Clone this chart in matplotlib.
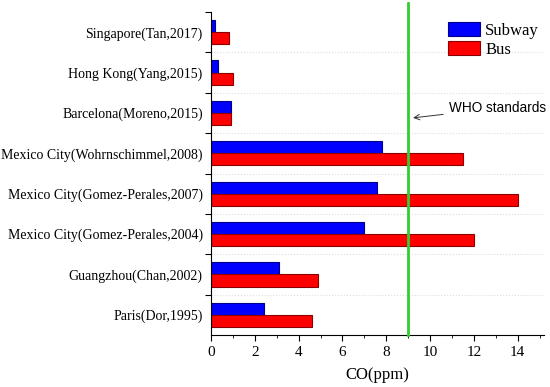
import numpy as np
import matplotlib.pyplot as plt

# categories listed bottom -> top
cities = ["Paris(Dor,1995)", "Guangzhou(Chan,2002)", "Mexico City(Gomez-Perales,2004)",
          "Mexico City(Gomez-Perales,2007)", "Mexico City(Wohrnschimmel,2008)",
          "Barcelona(Moreno,2015)", "Hong Kong(Yang,2015)", "Singapore(Tan,2017)"]
subway = [2.4, 3.1, 7.0, 7.6, 7.8, 0.9, 0.3, 0.2]
bus = [4.6, 4.9, 12.0, 14.0, 11.5, 0.9, 1.0, 0.8]
who_limit = 9

plt.rcParams['font.family'] = ['Liberation Serif', 'DejaVu Serif']

fig = plt.figure(figsize=(5.5, 3.87), dpi=100)
ax = fig.add_axes([211/550, 52/387, 333/550, 323/387])

y = np.arange(len(cities))
h = 0.3
ax.barh(y + h/2, subway, height=h, color='#0000ff', edgecolor='#00008b', lw=0.8, label='Subway', zorder=2)
ax.barh(y - h/2, bus, height=h, color='#ff0000', edgecolor='#8b0000', lw=0.8, label='Bus', zorder=2)

ax.set_ylim(-0.5, len(cities) - 0.5)
ax.set_xlim(0, 15.2)
ax.set_yticks(np.arange(len(cities)) + 0.5)
ax.set_yticklabels([])
ax.set_yticks(y, minor=True)
ax.set_yticklabels(cities, minor=True, fontsize=10)
ax.tick_params(axis='y', which='minor', length=0, pad=6)
ax.tick_params(axis='y', which='major', length=4, direction='out')
ax.set_xticks(np.arange(0, 15, 2))
ax.set_xticks(np.arange(0, 16, 1), minor=True)
ax.tick_params(axis='x', which='major', length=4, direction='out', labelsize=11, pad=4)
ax.tick_params(axis='x', which='minor', length=2, direction='out')
for b in np.arange(0.5, len(cities) - 1, 1):
    ax.axhline(b, color='#dddddd', ls=':', lw=0.8, zorder=1)

for s in ['top', 'right']:
    ax.spines[s].set_visible(False)
ax.set_xlabel('CO(ppm)', fontsize=12, labelpad=6)

ax.plot([who_limit, who_limit], [-0.5, 7.72], color='#33cc33', lw=2, clip_on=False, zorder=3)
ax.annotate('WHO standards', xy=(9.1, 4.87), xytext=(10.85, 5.12), fontsize=9.8,
            family=['Liberation Sans', 'DejaVu Sans'], va='center', ha='left',
            arrowprops=dict(arrowstyle='->', color='#333333', lw=0.7))

ax.legend(loc='upper left', bbox_to_anchor=(0.712, 0.969), frameon=False, fontsize=12,
          handlelength=1.92, handleheight=0.96, labelspacing=0.12, handletextpad=0.3,
          borderpad=0, borderaxespad=0)

fig.savefig('out.png', dpi=100)
